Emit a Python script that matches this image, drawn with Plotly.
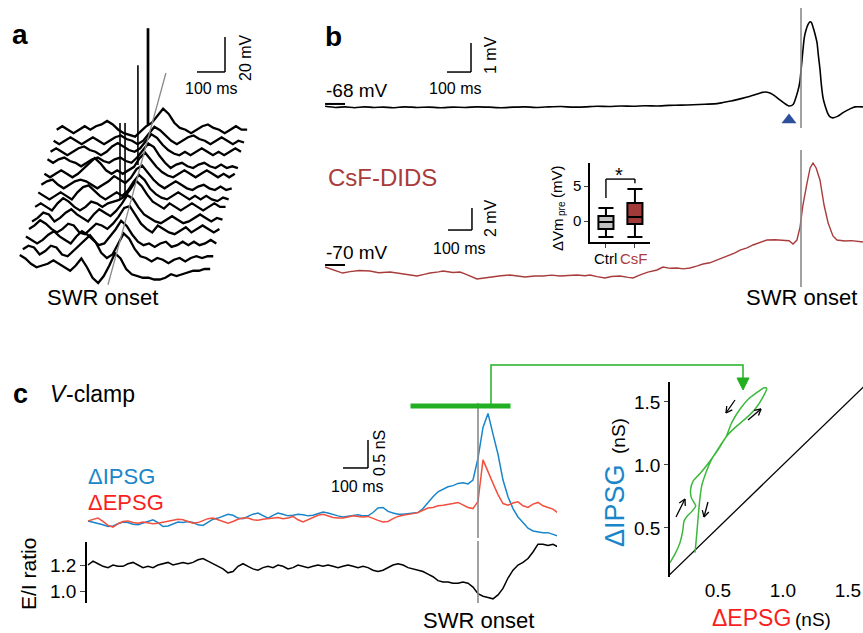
import math
import plotly.graph_objects as go

# ---------------- DATA ----------------
# Panel a: waterfall of single-sweep Vm traces (mV, relative), sampled every 20 ms around SWR onset
A_TAU = list(range(-340, 341, 20))
A_T00 = [4, 2, -1, -3, -2, -1, 1, -1, -3, -5, -2, 2, -3, -9, -12, -8, -2, 5, 2, -4, -7, -8, -9, -9, -10, -10, -9, -7, -8, -7, -6, -5, -5, -4, -4]
A_T01 = [1, 3, 2, -2, 0, 3, 2, -2, -3, 0, 3, 6, 9, 5, -1, -4, -2, 4, 10, 7, 1, -3, -4, -6, -4, -5, -7, -5, -4, -6, -4, -3, -4, -3, -3]
A_T02 = [2, 0, -2, 0, 3, 5, 2, 0, -2, 2, 5, 3, 0, -3, -2, 2, 6, 11, 8, 3, -1, -3, -2, -4, -2, -1, -4, -3, -1, -3, -1, -3, -2, 0, -2]
A_T03 = [0, 2, 5, 3, 0, -2, 0, 3, 2, -2, -3, 0, 3, 2, 0, 3, 7, 12, 13, 8, 3, 0, -2, 2, 0, -2, -3, -1, 1, -2, 0, 2, 0, -2, 0]
A_T04 = [-2, 0, 3, 2, -2, 0, 3, 5, 2, 0, -2, 2, 5, 3, 1, 4, 8, 13, 11, 6, 2, 0, -2, -3, -1, 1, -1, -3, -2, 0, 2, 0, -2, 0, -1]
A_T05 = [0, 2, 0, -2, 2, 5, 3, 0, -2, 0, 3, 2, 0, 2, 3, 4, 6, 10, 15, 12, 7, 3, 1, -1, 2, 0, -2, 0, 2, 0, -2, 0, 2, 0, 0]
A_T06 = [2, 0, -2, 0, 2, 0, -2, 2, 5, 6, 3, 0, -2, 0, 2, 0, 3, 8, 12, 9, 4, 1, -1, -2, 0, 2, 0, -2, 0, -2, 0, -2, -3, -1, -2]
A_T07 = [0, 2, 3, 0, -2, 0, 2, 3, 2, 0, -2, 0, 2, 5, 3, 1, 4, 9, 11, 7, 3, 0, -2, 0, 2, 0, -2, -3, -1, 0, -2, -3, -1, -3, -2]
A_T08 = [0, -2, 0, 2, 0, -2, 0, 3, 6, 9, 6, 2, 0, 2, 0, 2, 4, 9, 12, 8, 4, 1, -1, -2, 0, 2, 0, -2, 0, 2, 0, -2, 0, -2, 0]
A_T09 = [2, 0, 2, 3, 1, 0, -2, 0, 2, 3, 1, 0, 2, 3, 1, 0, 3, 7, 11, 9, 4, 0, -3, -1, 0, -2, -3, -1, 0, -2, -3, -1, -3, -2, -3]
A_T10 = [0, 2, 0, -2, 0, 2, 3, 1, 0, -2, 0, 3, 5, 3, 1, 0, 2, 6, 10, 8, 4, 1, -1, -2, 0, -2, 0, 2, 0, -2, 0, -2, 0, 2, 0]
A_T11 = [0, -2, 0, 2, 0, -2, 0, 2, 0, -2, 0, 2, 3, 1, 0, -2, 0, 4, 8, 6, 3, 0, -2, 0, 2, 3, 1, 0, -2, 0, 2, 0, -2, 0, -1]
A_T12 = [0, 2, 0, -2, 0, 2, 0, 2, 3, 5, 3, 0, -2, -3, -4, -1, 2, 4, 8, 12, 9, 4, 1, 0, -2, 0, 2, 3, 1, 0, -2, 0, 2, 0, 0]
A_TRACES = [A_T00, A_T01, A_T02, A_T03, A_T04, A_T05, A_T06, A_T07, A_T08, A_T09, A_T10, A_T11, A_T12]
# spikes: trace index, time (ms), base (mV), peak (mV)
A_SPIKE_TRACE = [5, 5, 8, 12, 12]
A_SPIKE_T = [-37, -19, -6, -16, -12]
A_SPIKE_BASE = [4, 6, 5, 3, 3]
A_SPIKE_PEAK = [48, 48, 62, 58, 58]

# Panel b top: Vm (mV), control
B1_T = [-1983, -1940, -1900, -1860, -1820, -1780, -1740, -1700, -1650, -1600, -1550, -1500, -1450, -1400,
        -1350, -1300, -1250, -1200, -1150, -1100, -1050, -1000, -950, -900, -850, -800, -750, -700, -650,
        -600, -550, -500, -450, -400, -350, -325, -290, -242, -215, -192, -170, -150, -130, -117, -100, -88,
        -67, -50, -33, -13, -5, 0, 4, 8, 14, 21, 30, 38, 44, 50, 58, 67, 72, 79, 85, 92, 100, 113, 120, 133,
        154, 175, 204, 225, 258]
B1_V = [-68.08, -68.12, -68.10, -68.13, -68.10, -68.12, -68.11, -68.13, -68.10, -68.12, -68.11, -68.13, -68.11,
        -68.12, -68.10, -68.11, -68.13, -68.11, -68.10, -68.12, -68.10, -68.09, -68.11, -68.10, -68.08, -68.09,
        -68.07, -68.08, -68.06, -68.07, -68.05, -68.04, -68.03, -68.01, -67.99, -67.95, -67.90, -67.80, -67.74,
        -67.68, -67.62, -67.59, -67.62, -67.68, -67.78, -67.86, -67.99, -68.07, -68.02, -67.55, -67.25, -66.85,
        -66.50, -66.15, -65.70, -65.45, -65.25, -65.17, -65.20, -65.35, -65.58, -65.90, -66.30, -66.80, -67.35,
        -67.80, -68.05, -68.35, -68.44, -68.48, -68.42, -68.30, -68.17, -68.10, -68.10]
B1_DIP_T = [-50]
B1_DIP_V = [-68.55]

# Panel b bottom: Vm (mV), CsF-DIDS
B2_T = [-1983, -1950, -1910, -1879, -1840, -1796, -1760, -1712, -1680, -1650, -1600, -1570, -1546, -1510,
        -1492, -1450, -1421, -1400, -1379, -1350, -1320, -1296, -1250, -1213, -1180, -1150, -1110, -1075,
        -1040, -1004, -970, -933, -900, -879, -850, -817, -790, -754, -720, -700, -670, -638, -600, -575,
        -545, -517, -490, -463, -435, -408, -380, -350, -320, -296, -275, -254, -225, -200, -170, -142, -108,
        -75, -50, -33, -17, -4, 8, 25, 38, 50, 63, 79, 96, 113, 133, 150, 183, 210, 233, 258]
B2_V = [-70.18, -70.45, -70.73, -70.60, -70.50, -70.55, -70.70, -70.64, -70.75, -70.82, -71.00, -70.85, -70.73,
        -70.62, -70.55, -70.68, -70.64, -70.80, -71.00, -71.27, -71.18, -71.09, -70.98, -70.91, -71.02, -71.09,
        -71.00, -71.00, -70.92, -71.00, -70.95, -70.91, -70.98, -70.91, -71.05, -71.18, -71.05, -71.00, -71.12,
        -71.18, -70.90, -70.64, -70.45, -70.18, -70.30, -70.27, -70.35, -70.27, -70.10, -69.91, -69.80, -69.55,
        -69.30, -69.09, -68.90, -68.64, -68.45, -68.18, -67.95, -67.73, -67.70, -67.73, -67.80, -68.09, -67.73,
        -66.55, -64.55, -62.55, -61.18, -60.73, -61.18, -62.27, -64.55, -66.18, -67.36, -67.73, -67.82, -67.78,
        -67.82, -67.91]

# Inset box plot: dVm_pre (mV)
INSET_GROUPS = ["Ctrl", "CsF"]
INSET_LOW = [-2.3, -2.3]
INSET_Q1 = [-1.14, -0.43]
INSET_MED = [-0.14, 0.57]
INSET_Q3 = [0.71, 2.57]
INSET_HIGH = [1.86, 4.57]

# Panel c: conductances (nS) and E/I ratio, sampled every 20 ms (time in ms from SWR onset)
C_T = list(range(-1560, 321, 20))
C_IPSG = [-0.07, -0.09, -0.11, -0.14, -0.17, -0.16, -0.12, -0.09, -0.10, -0.13,
          -0.14, -0.11, -0.08, -0.05, -0.10, -0.17, -0.16, -0.12, -0.09, -0.10,
          -0.08, -0.10, -0.14, -0.15, -0.09, -0.04, -0.02, 0.02, 0.05, 0.03,
          -0.02, -0.03, 0.01, 0.05, 0.07, 0.02, -0.02, 0.03, 0.07, 0.05,
          0.02, 0.03, 0.05, 0.04, 0.02, 0.03, 0.06, 0.09, 0.07, 0.04,
          0.02, 0.00, 0.01, 0.03, 0.04, 0.02, 0.02, 0.08, 0.16, 0.17,
          0.10, 0.07, 0.05, 0.05, 0.06, 0.07, 0.08, 0.15, 0.26, 0.36,
          0.45, 0.50, 0.54, 0.56, 0.60, 0.61, 0.59, 0.66, 1.05, 1.60,
          1.85, 1.48, 1.12, 0.66, 0.36, 0.15, 0.00, -0.10, -0.20, -0.25,
          -0.27, -0.28, -0.28, -0.31, -0.34]
C_EPSG = [-0.07, -0.04, -0.02, -0.08, -0.15, -0.18, -0.12, -0.08, -0.07, -0.10,
          -0.11, -0.09, -0.10, -0.12, -0.11, -0.09, -0.08, -0.05, -0.04, -0.05,
          -0.08, -0.11, -0.10, -0.06, -0.03, -0.02, -0.05, -0.09, -0.11, -0.08,
          -0.04, -0.02, -0.02, -0.05, -0.06, -0.04, -0.03, -0.02, -0.01, -0.03,
          -0.02, 0.01, -0.05, -0.09, -0.05, -0.01, 0.03, 0.05, 0.02, -0.01,
          -0.02, -0.02, 0.00, 0.02, 0.01, 0.00, 0.01, -0.03, -0.06, -0.09,
          -0.08, -0.03, 0.01, 0.03, 0.04, 0.06, 0.08, 0.12, 0.16, 0.17,
          0.20, 0.21, 0.22, 0.24, 0.26, 0.22, 0.17, 0.15, 0.28, 1.02,
          0.80, 0.60, 0.40, 0.24, 0.21, 0.25, 0.27, 0.20, 0.17, 0.23,
          0.26, 0.20, 0.17, 0.14, 0.07]
C_EI = [1.20, 1.23, 1.21, 1.19, 1.18, 1.20, 1.19, 1.19, 1.21, 1.22,
        1.20, 1.18, 1.19, 1.18, 1.20, 1.21, 1.22, 1.20, 1.21, 1.22,
        1.21, 1.22, 1.24, 1.25, 1.23, 1.21, 1.19, 1.17, 1.14, 1.15,
        1.19, 1.21, 1.19, 1.17, 1.16, 1.18, 1.19, 1.18, 1.20, 1.19,
        1.17, 1.18, 1.20, 1.19, 1.18, 1.19, 1.20, 1.19, 1.20, 1.19,
        1.18, 1.19, 1.20, 1.19, 1.18, 1.19, 1.18, 1.16, 1.15, 1.16,
        1.18, 1.20, 1.21, 1.20, 1.18, 1.17, 1.16, 1.15, 1.13, 1.11,
        1.08, 1.07, 1.07, 1.06, 1.06, 1.07, 1.06, 1.03, 0.98, 0.96,
        0.95, 0.94, 0.97, 1.02, 1.10, 1.16, 1.20, 1.22, 1.25, 1.30,
        1.36, 1.36, 1.35, 1.36, 1.34]
C_EI_TICKS = [1.0, 1.2]
C_WINDOW = [-270, 130]

# Panel c right: dIPSG vs dEPSG trajectory (nS)
LOOP_E = [0.131, 0.169, 0.208, 0.229, 0.239, 0.264, 0.298, 0.329, 0.316, 0.295, 0.290, 0.310, 0.362, 0.439,
          0.503, 0.562, 0.631, 0.708, 0.785, 0.844, 0.875, 0.854, 0.798, 0.733, 0.669, 0.606, 0.562, 0.516,
          0.452, 0.408, 0.375, 0.362, 0.352, 0.341, 0.331, 0.323]
LOOP_I = [0.224, 0.291, 0.383, 0.476, 0.555, 0.595, 0.629, 0.674, 0.701, 0.740, 0.807, 0.873, 0.931, 1.031,
          1.124, 1.222, 1.296, 1.363, 1.442, 1.534, 1.608, 1.613, 1.573, 1.521, 1.442, 1.336, 1.222, 1.151,
          1.045, 0.939, 0.833, 0.740, 0.635, 0.502, 0.383, 0.304]
LOOP_TICKS = [0.5, 1.0, 1.5]

# ---------------- STYLE / LAYOUT ----------------
W, H = 863, 633
FONT = "Liberation Sans, Arial, sans-serif"
BLUE = "#1a86c9"
RED_T = "#f2503e"
RED_TXT = "#fa1e1e"
BROWN = "#a83c3c"
GREEN = "#22b022"
GRAY = "#8a8a8a"

for name, arr in [("ipsg", C_IPSG), ("epsg", C_EPSG), ("ei", C_EI)]:
    assert len(arr) == len(C_T), name
for arr in A_TRACES:
    assert len(arr) == len(A_TAU)


def fx(p):
    return p / W


def fy(p):
    return 1 - p / H


def dom_x(a, b):
    return [fx(a), fx(b)]


def dom_y(top, bottom):
    return [fy(bottom), fy(top)]


A_XSTEP, A_YSTEP = 11.0, 6.3

fig = go.Figure()

# Panel a traces
for i, tr in enumerate(A_TRACES):
    fig.add_trace(go.Scatter(x=[t + i * A_XSTEP for t in A_TAU], y=[v + i * A_YSTEP for v in tr],
                             mode="lines", line=dict(color="black", width=2.3), xaxis="x", yaxis="y",
                             hoverinfo="skip"))
for k in range(len(A_SPIKE_T)):
    i = A_SPIKE_TRACE[k]
    xs = A_SPIKE_T[k] + i * A_XSTEP
    fig.add_trace(go.Scatter(x=[xs, xs], y=[A_SPIKE_BASE[k] + i * A_YSTEP, A_SPIKE_PEAK[k] + i * A_YSTEP],
                             mode="lines", line=dict(color="black", width=1.6), xaxis="x", yaxis="y"))

# Panel b traces
fig.add_trace(go.Scatter(x=B1_T, y=B1_V, mode="lines",
                         line=dict(color="black", width=1.6, shape="spline", smoothing=0.6),
                         xaxis="x2", yaxis="y2"))
fig.add_trace(go.Scatter(x=B1_DIP_T, y=B1_DIP_V, mode="markers",
                         marker=dict(symbol="triangle-up", size=13, color="#2d4f9c"), xaxis="x2", yaxis="y2"))
fig.add_trace(go.Scatter(x=B2_T, y=B2_V, mode="lines", line=dict(color=BROWN, width=1.4), xaxis="x3", yaxis="y3"))

# Inset boxes
for j, col in enumerate(["#c2c2c2", "#a33a3a"]):
    fig.add_trace(go.Box(x=[j], q1=[INSET_Q1[j]], median=[INSET_MED[j]], q3=[INSET_Q3[j]],
                         lowerfence=[INSET_LOW[j]], upperfence=[INSET_HIGH[j]], width=0.52, whiskerwidth=1,
                         fillcolor=col, line=dict(color="black", width=2), xaxis="x4", yaxis="y4",
                         boxpoints=False))

# Panel c traces
fig.add_trace(go.Scatter(x=C_T, y=C_IPSG, mode="lines", line=dict(color=BLUE, width=1.5), xaxis="x5", yaxis="y5"))
fig.add_trace(go.Scatter(x=C_T, y=C_EPSG, mode="lines", line=dict(color=RED_T, width=1.5), xaxis="x5", yaxis="y5"))
fig.add_trace(go.Scatter(x=C_T, y=C_EI, mode="lines", line=dict(color="black", width=1.5), xaxis="x6", yaxis="y6"))

# Loop plot
fig.add_trace(go.Scatter(x=[0.0, 1.8], y=[0.0, 1.8], mode="lines", line=dict(color="black", width=1.3),
                         xaxis="x7", yaxis="y7"))
fig.add_trace(go.Scatter(x=LOOP_E, y=LOOP_I, mode="lines",
                         line=dict(color="#3cb83c", width=1.5, shape="spline", smoothing=0.5),
                         xaxis="x7", yaxis="y7"))

hidden = dict(visible=False, fixedrange=True)
shown = dict(showline=True, linecolor="black", linewidth=1.5, showgrid=False, zeroline=False, fixedrange=True)
layout = dict(
    width=W, height=H, margin=dict(l=0, r=0, t=0, b=0), showlegend=False,
    paper_bgcolor="white", plot_bgcolor="rgba(0,0,0,0)", font=dict(family=FONT, color="black"),
    xaxis=dict(hidden, domain=dom_x(15, 260), range=[-357, 518], anchor="y"),
    yaxis=dict(hidden, domain=dom_y(20, 290), range=[-16, 138.3], anchor="x"),
    xaxis2=dict(hidden, domain=dom_x(323, 863), range=[-1991.7, 258.3], anchor="y2"),
    yaxis2=dict(hidden, domain=dom_y(5, 135), range=[-69.07, -64.59], anchor="x2"),
    xaxis3=dict(hidden, domain=dom_x(323, 863), range=[-1991.7, 258.3], anchor="y3"),
    yaxis3=dict(hidden, domain=dom_y(150, 290), range=[-72.27, -59.55], anchor="x3"),
    xaxis4=dict(shown, domain=dom_x(590, 650), range=[-0.55, 1.52], anchor="y4",
                ticks="outside", ticklen=4, tickwidth=1.3, tickvals=[0, 1], showticklabels=False),
    yaxis4=dict(shown, domain=dom_y(163, 242), range=[-3.0, 8.3], anchor="x4",
                ticks="outside", ticklen=4, tickwidth=1.3, tickvals=[0, 5], tickfont=dict(size=15)),
    xaxis5=dict(hidden, domain=dom_x(87, 557), range=[-1564, 316], anchor="y5"),
    yaxis5=dict(hidden, domain=dom_y(400, 540), range=[-0.411, 2.089], anchor="x5"),
    xaxis6=dict(hidden, domain=dom_x(87, 557), range=[-1564, 316], anchor="y6"),
    yaxis6=dict(shown, domain=dom_y(542, 603), range=[0.908, 1.377], anchor="x6",
                ticks="outside", ticklen=5, tickwidth=1.3, tickvals=C_EI_TICKS,
                ticktext=["%.1f" % v for v in C_EI_TICKS], tickfont=dict(size=19)),
    xaxis7=dict(domain=dom_x(670, 863), range=[0.131, 1.616], anchor="y7", showline=False, ticks="",
                tickvals=LOOP_TICKS, ticktext=["%.1f" % v for v in LOOP_TICKS], tickfont=dict(size=19),
                showgrid=False, zeroline=False, fixedrange=True),
    yaxis7=dict(shown, domain=dom_y(382, 577), range=[0.11, 1.658], anchor="x7",
                ticks="outside", ticklen=4, tickwidth=1.3, tickvals=LOOP_TICKS,
                ticktext=["%.1f" % v for v in LOOP_TICKS], tickfont=dict(size=19)),
)
fig.update_layout(**layout)

shapes = []


def seg(xref, yref, x0, y0, x1, y1, color="black", width=1.5):
    shapes.append(dict(type="line", xref=xref, yref=yref, x0=x0, y0=y0, x1=x1, y1=y1,
                       line=dict(color=color, width=width)))


# scale bars
seg("x", "y", 293, 108.6, 393, 108.6)
seg("x", "y", 393, 108.6, 393, 128.6)
seg("x2", "y2", -1475, -66.9, -1375, -66.9)
seg("x2", "y2", -1375, -66.9, -1375, -65.9)
seg("x3", "y3", -1471, -66.82, -1371, -66.82)
seg("x3", "y3", -1371, -66.82, -1371, -64.82)
seg("x5", "y5", -540, 0.875, -440, 0.875)
seg("x5", "y5", -440, 0.875, -440, 1.375)
# Vm reference marks
seg("x2", "y2", -1983, -68.0, -1900, -68.0, width=2)
seg("x3", "y3", -1983, -70.0, -1900, -70.0, width=2)
# SWR onset lines
seg("x", "y", -25, -13, 182, 108, color=GRAY, width=1.3)
seg("x2", "paper", 0, fy(128), 0, fy(8), color=GRAY, width=1.6)
seg("x3", "paper", 0, fy(287), 0, fy(150), color=GRAY, width=1.6)
seg("x5", "paper", 0, fy(538), 0, fy(403), color=GRAY, width=1.6)
seg("x5", "paper", 0, fy(603), 0, fy(541), color=GRAY, width=1.6)
# inset significance bracket
seg("x4", "y4", 0, 3.3, 0, 6.0, width=1.4)
seg("x4", "y4", 0, 6.0, 1, 6.0, width=1.4)
seg("x4", "y4", 1, 6.0, 1, 5.4, width=1.4)
# green window bar and connector to the loop plot
seg("x5", "y5", C_WINDOW[0], 1.98, C_WINDOW[1], 1.98, color=GREEN, width=5)
shapes.append(dict(type="path", xref="paper", yref="paper",
                   path="M %f %f L %f %f L %f %f L %f %f" % (fx(491), fy(406), fx(491), fy(365), fx(743), fy(365),
                                                             fx(743), fy(380)),
                   line=dict(color=GREEN, width=1.5)))
shapes.append(dict(type="path", xref="paper", yref="paper",
                   path="M %f %f L %f %f L %f %f Z" % (fx(737), fy(378), fx(749), fy(378), fx(743), fy(390)),
                   line=dict(color=GREEN, width=1), fillcolor=GREEN))

# direction arrows on the loop (open chevron heads), tail -> head in pixels
for (tx, ty), (hx, hy) in [((676, 517), (685, 499)), ((708, 502), (704, 517)),
                           ((735, 400), (726, 413)), ((748, 420), (761, 409))]:
    seg("paper", "paper", fx(tx), fy(ty), fx(hx), fy(hy), width=1.3)
    ang = math.atan2(ty - hy, tx - hx)
    for d in (0.5, -0.5):
        wx = hx + 7 * math.cos(ang + d)
        wy = hy + 7 * math.sin(ang + d)
        seg("paper", "paper", fx(hx), fy(hy), fx(wx), fy(wy), width=1.3)
fig.update_layout(shapes=shapes)

ann = []


def txt(s, x, y, size, color="black", angle=0, xanchor="center", weight="normal", style="normal"):
    ann.append(dict(text=s, x=fx(x), y=fy(y), xref="paper", yref="paper", showarrow=False,
                    font=dict(size=size, color=color, family=FONT, weight=weight, style=style),
                    textangle=angle, xanchor=xanchor, yanchor="middle"))


txt("a", 20, 35, 28, weight="bold")
txt("100 ms", 211, 89, 16)
txt("20 mV", 245, 57, 16, angle=-90)
txt("SWR onset", 102, 297, 22)
txt("b", 333, 36, 28, weight="bold")
txt("100 ms", 455, 88, 16)
txt("1 mV", 490, 55, 16, angle=-90)
txt("-68 mV", 357, 91, 19)
txt("CsF-DIDS", 382, 178, 24, color=BROWN)
txt("2 mV", 490, 218, 16, angle=-90)
txt("100 ms", 459, 249, 16)
txt("-70 mV", 357, 253, 19)
txt("SWR onset", 801, 297, 22)
# inset labels
txt("ΔVm", 557, 235, 15, angle=-90)
txt("pre", 561, 209, 10, angle=-90)
txt("(mV)", 557, 182, 15, angle=-90)
txt(INSET_GROUPS[0], 605, 258, 15)
txt(INSET_GROUPS[1], 634, 258, 15, color=BROWN)
txt("*", 619, 175, 20)
# panel c labels
txt("c", 20, 394, 27, weight="bold")
txt("V", 48, 394, 23, xanchor="left", style="italic")
txt("-clamp", 64, 394, 23, xanchor="left")
txt("ΔIPSG", 86, 476, 22, color=BLUE, xanchor="left")
txt("ΔEPSG", 86, 502, 22, color=RED_TXT, xanchor="left")
txt("0.5 nS", 380, 453, 16, angle=-90)
txt("100 ms", 357, 486, 16)
txt("E/I ratio", 28, 574, 21, angle=-90)
txt("SWR onset", 478, 620, 22)
# loop plot axis titles (coloured quantity + black unit)
txt("ΔIPSG", 615, 506, 27, color=BLUE, angle=-90)
txt("(nS)", 618, 436, 19, angle=-90)
txt("ΔEPSG", 751, 618, 23, color=RED_TXT)
txt("(nS)", 813, 619, 19)
fig.update_layout(annotations=ann)

fig.write_html("out.html")
